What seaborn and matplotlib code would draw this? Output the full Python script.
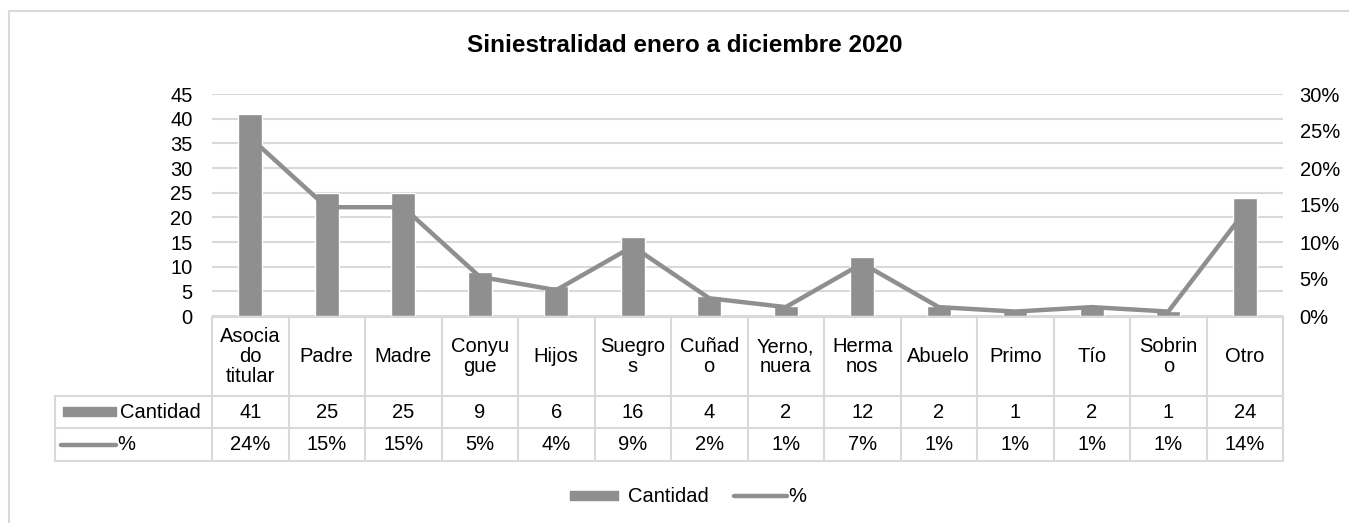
import numpy as np
import pandas as pd
import seaborn as sns
import matplotlib.pyplot as plt
from matplotlib.lines import Line2D
from matplotlib.patches import Rectangle
import matplotlib.transforms as mtransforms

# Data
categorias = ['Asocia\ndo\ntitular', 'Padre', 'Madre', 'Conyu\ngue', 'Hijos', 'Suegro\ns',
              'Cuñad\no', 'Yerno,\nnuera', 'Herma\nnos', 'Abuelo', 'Primo', 'Tío',
              'Sobrin\no', 'Otro']
cantidad = [41, 25, 25, 9, 6, 16, 4, 2, 12, 2, 1, 2, 1, 24]
porcentaje = [0.241, 0.147, 0.147, 0.053, 0.035, 0.094, 0.024, 0.012, 0.071, 0.012,
              0.006, 0.012, 0.006, 0.141]
pct_labels = ['24%', '15%', '15%', '5%', '4%', '9%', '2%', '1%', '7%', '1%', '1%', '1%', '1%', '14%']

df = pd.DataFrame({'cat': range(len(categorias)), 'cantidad': cantidad, 'pct': porcentaje})

sns.set_style('white')
plt.rcParams['font.family'] = ['Liberation Sans', 'DejaVu Sans']
plt.rcParams['text.color'] = 'black'
plt.rcParams['ytick.color'] = 'black'

W, H = 1349, 523
fig = plt.figure(figsize=(W / 100, H / 100), dpi=100)

# plot area in pixels
L, R, T, B = 212, 1283, 94, 316
ax = fig.add_axes([L / W, 1 - B / H, (R - L) / W, (B - T) / H])

gris = '#8f8f8f'
grid_c = '#d9d9d9'
fs = 14.5

sns.barplot(data=df, x='cat', y='cantidad', color=gris, width=0.31, saturation=1,
            ax=ax, zorder=2)
ax.set_ylim(0, 45)
ax.set_yticks(range(0, 46, 5))
ax.set_xlim(-0.5, len(categorias) - 0.5)
ax.yaxis.grid(True, color=grid_c, lw=1.5, zorder=0)
ax.set_axisbelow(True)
ax.set_xticks([])
ax.set_xlabel('')
ax.set_ylabel('')
for s in ax.spines.values():
    s.set_visible(False)
ax.tick_params(axis='y', length=0, labelsize=fs, pad=14)

ax2 = ax.twinx()
sns.lineplot(data=df, x='cat', y='pct', color=gris, lw=3.2, ax=ax2, zorder=3)
ax2.set_ylim(0, 0.30)
ax2.set_yticks(np.arange(0, 0.31, 0.05))
ax2.set_yticklabels([f'{int(round(v * 100))}%' for v in np.arange(0, 0.31, 0.05)])
ax2.set_xlim(-0.5, len(categorias) - 0.5)
ax2.set_xlabel('')
ax2.set_ylabel('')
for s in ax2.spines.values():
    s.set_visible(False)
ax2.tick_params(axis='y', length=0, labelsize=fs, pad=12)

# data table below the axes (x in data units, y in pixels from top)
pix = mtransforms.Affine2D().scale(1, -1).translate(0, H)
tr = mtransforms.blended_transform_factory(ax.transData, pix)
trp = pix  # pure pixel transform

y_head_top, y_head_bot, y_r1, y_r2 = 317, 396, 428, 461
n = len(categorias)
lw_t = 1.5

def hline(x0, x1, y, transform):
    fig.add_artist(Line2D([x0, x1], [y, y], color=grid_c, lw=lw_t, transform=transform))

def vline(x, y0, y1, transform):
    fig.add_artist(Line2D([x, x], [y0, y1], color=grid_c, lw=lw_t, transform=transform))

hline(L, R, y_head_top, trp)
hline(55, R, y_head_bot, trp)
hline(55, R, y_r1, trp)
hline(55, R, y_r2, trp)
vline(55, y_head_bot, y_r2, trp)
for i in range(n + 1):
    vline(i - 0.5, y_head_top, y_r2, tr)

for i, c in enumerate(categorias):
    fig.text(i, (y_head_top + y_head_bot) / 2, c, transform=tr, ha='center', va='center',
             fontsize=fs, linespacing=1.05)
    fig.text(i, (y_head_bot + y_r1) / 2, str(cantidad[i]), transform=tr, ha='center',
             va='center', fontsize=fs)
    fig.text(i, (y_r1 + y_r2) / 2, pct_labels[i], transform=tr, ha='center',
             va='center', fontsize=fs)

# row keys
fig.add_artist(Rectangle((63, 407), 53, 9, color=gris, transform=trp))
fig.text(120, (y_head_bot + y_r1) / 2, 'Cantidad', transform=trp, ha='left', va='center', fontsize=fs)
fig.add_artist(Line2D([61, 116], [445, 445], color=gris, lw=3.2, solid_capstyle='round', transform=trp))
fig.text(117, (y_r1 + y_r2) / 2, '%', transform=trp, ha='left', va='center', fontsize=fs)

# legend
fig.add_artist(Rectangle((570, 491), 48, 9, color=gris, transform=trp))
fig.text(628, 496, 'Cantidad', transform=trp, ha='left', va='center', fontsize=fs)
fig.add_artist(Line2D([734, 787], [496, 496], color=gris, lw=3.2, solid_capstyle='round', transform=trp))
fig.text(788, 496, '%', transform=trp, ha='left', va='center', fontsize=fs)

# title
fig.text(685, 46, 'Siniestralidad enero a diciembre 2020', transform=trp, ha='center',
         va='center', fontsize=17.5, fontweight='bold')

# outer frame
fig.add_artist(Line2D([9, 9], [11, H], color=grid_c, lw=1.5, transform=trp))
fig.add_artist(Line2D([9, W], [11, 11], color=grid_c, lw=1.5, transform=trp))

fig.savefig('out.png', dpi=100)
